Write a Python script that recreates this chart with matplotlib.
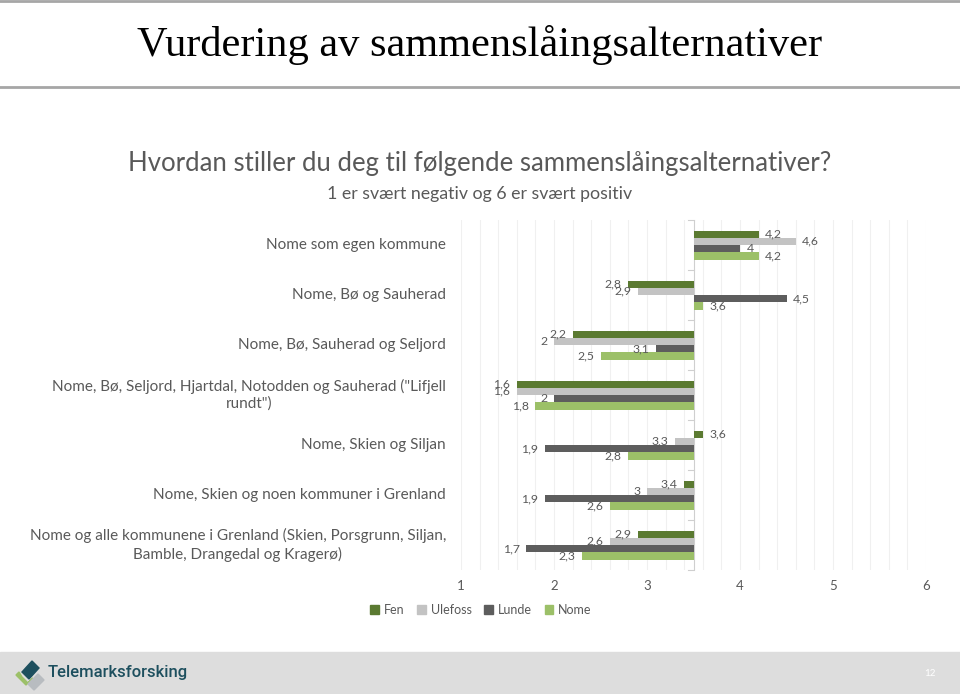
import numpy as np
import matplotlib.pyplot as plt
from matplotlib.patches import Polygon, Rectangle
from matplotlib.lines import Line2D
from matplotlib.transforms import blended_transform_factory

# Data
categories = [
    'Nome som egen kommune',
    'Nome, Bø og Sauherad',
    'Nome, Bø, Sauherad og Seljord',
    'Nome, Bø, Seljord, Hjartdal, Notodden og Sauherad ("Lifjell\nrundt")',
    'Nome, Skien og Siljan',
    'Nome, Skien og noen kommuner i Grenland',
    'Nome og alle kommunene i Grenland (Skien, Porsgrunn, Siljan,\nBamble, Drangedal og Kragerø)',
]
series = ['Fen', 'Ulefoss', 'Lunde', 'Nome']
fen = [4.2, 2.8, 2.2, 1.6, 3.6, 3.4, 2.9]
ulefoss = [4.6, 2.9, 2.0, 1.6, 3.3, 3.0, 2.6]
lunde = [4.0, 4.5, 3.1, 2.0, 1.9, 1.9, 1.7]
nome = [4.2, 3.6, 2.5, 1.8, 2.8, 2.6, 2.3]
values = [fen, ulefoss, lunde, nome]
colors = ['#5b7a31', '#c3c3c3', '#5d5d5d', '#9cc068']
x_ticks = [1, 2, 3, 4, 5, 6]
base = 3.5  # vertical axis crosses here

plt.rcParams['font.family'] = ['Lato', 'DejaVu Sans']
txt = '#595959'

fig = plt.figure(figsize=(9.6, 6.94), dpi=100)
W, H = 960, 694

def fy(py):
    return 1 - py / H

# header lines and title
fig.add_artist(Line2D([0, 1], [fy(1), fy(1)], color='#a6a6a6', lw=2))
fig.add_artist(Line2D([0, 1], [fy(87), fy(87)], color='#a6a6a6', lw=2))
fig.text(0.5, fy(45), 'Vurdering av sammenslåingsalternativer', ha='center', va='center',
         fontsize=30.5, family='Liberation Serif', color='black')
fig.text(0.5, fy(164), 'Hvordan stiller du deg til følgende sammenslåingsalternativer?',
         ha='center', va='center', fontsize=18.5, color=txt)
fig.text(0.5, fy(194), '1 er svært negativ og 6 er svært positiv',
         ha='center', va='center', fontsize=12.8, color=txt)

# chart
ax = fig.add_axes([461 / W, fy(570), (926 - 461) / W, 350 / H])
n = len(categories)
y = np.arange(n)
bh = 0.145
offsets = [-1.5 * bh, -0.5 * bh, 0.5 * bh, 1.5 * bh]
for vals, col, off, name in zip(values, colors, offsets, series):
    v = np.array(vals)
    ax.barh(y + off, v - base, left=base, height=bh, color=col, label=name, zorder=3)
    for yi, val in zip(y, v):
        lab = ('%g' % val).replace('.', ',')
        if val >= base:
            ax.text(val + 0.07, yi + off, lab, ha='left', va='center', fontsize=8.8, color=txt, zorder=4)
        else:
            ax.text(val - 0.07, yi + off, lab, ha='right', va='center', fontsize=8.8, color=txt, zorder=4)

ax.set_xlim(1, 6)
ax.set_ylim(n - 0.5, -0.5)
ax.set_xticks(x_ticks)
ax.set_xticks(np.arange(1, 6.01, 0.2), minor=True)
ax.grid(which='both', axis='x', color='#f0f0f0', lw=0.8, zorder=0)
ax.tick_params(which='both', length=0, labelsize=9.5, labelcolor=txt, pad=7)
ax.set_yticks([])
for s in ax.spines.values():
    s.set_visible(False)
ax.axvline(base, color='#cfcfcf', lw=0.8, zorder=2)
for b in np.arange(-0.5, n, 1.0):
    ax.plot([base - 0.055, base], [b, b], color='#cfcfcf', lw=0.8, zorder=2, clip_on=False)

# category labels
trans = blended_transform_factory(fig.transFigure, ax.transData)
for yi, cat in zip(y, categories):
    ax.text(446 / W, yi, cat, transform=trans, ha='right', va='center',
            multialignment='center', fontsize=11, color=txt, linespacing=1.25)

# legend
handles = [Rectangle((0, 0), 1, 1, color=c) for c in colors]
leg = fig.legend(handles, series, loc='center', bbox_to_anchor=(481 / W, fy(610)), ncol=4,
                 frameon=False, fontsize=9, handlelength=0.7, handleheight=0.7,
                 handletextpad=0.4, columnspacing=1.0)
for t in leg.get_texts():
    t.set_color(txt)

# footer
fig.add_artist(Rectangle((0, 0), 1, fy(652), transform=fig.transFigure, color='#dddddd', zorder=0))
fig.text(48 / W, fy(673), 'Telemarksforsking', ha='left', va='center', fontsize=12,
         color='#1d4f5e', family='Roboto', fontweight='medium')
fig.text(930 / W, fy(674), '12', ha='center', va='center', fontsize=7, color='white')

def pix_poly(pts, color):
    p = Polygon([(x / W, fy(yy)) for x, yy in pts], closed=True, transform=fig.transFigure,
                color=color, zorder=2)
    fig.add_artist(p)

pix_poly([(22, 672), (32, 661), (39, 668), (29, 679)], '#1d4f5e')
pix_poly([(16, 675), (26, 685), (33, 678), (28, 683), (22, 677), (19, 672)], '#9cc068')
pix_poly([(28, 684), (38, 674), (44, 680), (34, 690)], '#b8bcc0')

fig.savefig('out.png', dpi=100)
